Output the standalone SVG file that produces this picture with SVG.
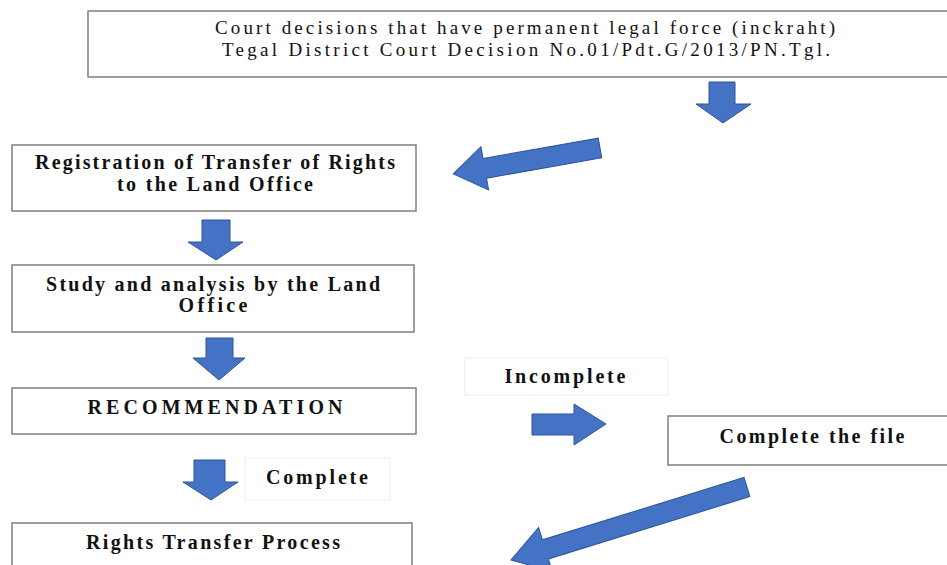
<svg xmlns="http://www.w3.org/2000/svg" width="947" height="565" viewBox="0 0 947 565">
<style>
.box{fill:#ffffff;stroke:#7f7f7f;stroke-width:1.5}
.lbl{fill:#ffffff;stroke:#eeeeee;stroke-width:1}
.t{font-family:"Liberation Serif","Times New Roman",serif;font-size:20px;fill:#111111;text-anchor:middle}
.tt{font-size:19px}
.b{font-weight:bold}
.arr{fill:#4472c4;stroke:#2f5597;stroke-width:1}
</style>
<rect width="947" height="565" fill="#ffffff"/>
<g id="n-court">
<rect class="box" x="88" y="11" width="862" height="66"/>
<text class="t tt" x="525" y="34" textLength="620" lengthAdjust="spacing">Court decisions that have permanent legal force (inckraht)</text>
<text class="t tt" x="526" y="56" textLength="608" lengthAdjust="spacing">Tegal District Court Decision No.01/Pdt.G/2013/PN.Tgl.</text>
</g>
<g id="n-registration">
<rect class="box" x="12" y="145" width="404" height="66"/>
<text class="t b" x="215" y="169" textLength="360" lengthAdjust="spacing">Registration of Transfer of Rights</text>
<text class="t b" x="215" y="191" textLength="196" lengthAdjust="spacing">to the Land Office</text>
</g>
<g id="n-study">
<rect class="box" x="12" y="265" width="402" height="67"/>
<text class="t b" x="213" y="291" textLength="334" lengthAdjust="spacing">Study and analysis by the Land</text>
<text class="t b" x="213" y="312" textLength="69" lengthAdjust="spacing">Office</text>
</g>
<g id="n-recommendation">
<rect class="box" x="12" y="388" width="404" height="46"/>
<text class="t b" x="215" y="414" textLength="255" lengthAdjust="spacing">RECOMMENDATION</text>
</g>
<g id="n-complete-file">
<rect class="box" x="668" y="416" width="282" height="49"/>
<text class="t b" x="812" y="443" textLength="185" lengthAdjust="spacing">Complete the file</text>
</g>
<g id="n-rights-transfer">
<rect class="box" x="12" y="523" width="400" height="50"/>
<text class="t b" x="213" y="549" textLength="254" lengthAdjust="spacing">Rights Transfer Process</text>
</g>
<g id="connectors">
<polygon class="arr" points="709,82 735,82 735,104 751,104 723,123 696,104 709,104"/>
<polygon class="arr" transform="translate(600,148) rotate(170)" points="0,-10 117,-10 117,-22 149,0 117,22 117,10 0,10"/>
<polygon class="arr" points="202,220 230,220 230,242 243,242 216,260 188,242 202,242"/>
<polygon class="arr" points="206,338 233,338 233,358 245,358 219,380 193,358 206,358"/>
<polygon class="arr" points="532,414 574,414 574,404 606,424 574,445 574,435 532,435"/>
<polygon class="arr" points="194,460 225,460 225,482 238,482 211,500 183,482 194,482"/>
<polygon class="arr" transform="translate(747,487) rotate(162.8)" points="0,-10 211,-10 211,-23 247,0 211,23 211,10 0,10"/>
<g id="lbl-incomplete">
<rect class="lbl" x="465" y="358" width="203" height="37"/>
<text class="t b" x="565" y="383" textLength="121" lengthAdjust="spacing">Incomplete</text>
</g>
<g id="lbl-complete">
<rect class="lbl" x="245" y="458" width="145" height="42"/>
<text class="t b" x="317" y="484" textLength="102" lengthAdjust="spacing">Complete</text>
</g>
</g>
</svg>
